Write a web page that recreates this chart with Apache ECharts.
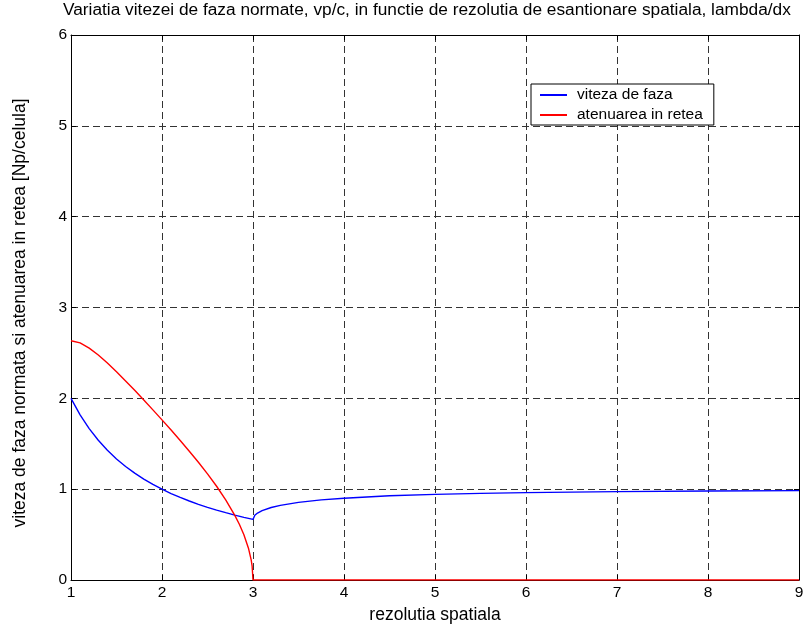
<!DOCTYPE html>
<html><head><meta charset="utf-8">
<script src="https://cdn.jsdelivr.net/npm/echarts@6/dist/echarts.min.js"></script>
<style>html,body{margin:0;padding:0;background:#fff}#c{width:809px;height:625px}</style>
</head><body><div id="c"></div>
<script>
var titleText = 'Variatia vitezei de faza normate, vp/c, in functie de rezolutia de esantionare spatiala, lambda/dx';
var xName = 'rezolutia spatiala';
var yName = 'viteza de faza normata si atenuarea in retea [Np/celula]';
var seriesNames = ['viteza de faza', 'atenuarea in retea'];
var xTicks = [1, 2, 3, 4, 5, 6, 7, 8, 9];
var yTicks = [0, 1, 2, 3, 4, 5, 6];

// viteza de faza (vp/c) vs rezolutie
var vX = [1.0, 1.1, 1.2, 1.3, 1.4, 1.5, 1.6, 1.7, 1.8, 1.9, 2.0, 2.1, 2.2, 2.3, 2.4, 2.5, 2.6, 2.7, 2.8, 2.9, 3.0,
          3.02, 3.05, 3.1, 3.2, 3.3, 3.5, 3.75, 4.0, 4.5, 5.0, 5.5, 6.0, 7.0, 8.0, 9.0];
var vY = [2.000, 1.818, 1.667, 1.538, 1.429, 1.333, 1.250, 1.176, 1.111, 1.053, 1.000, 0.952, 0.909, 0.870, 0.833, 0.800, 0.769, 0.741, 0.714, 0.690, 0.667,
          0.712, 0.737, 0.763, 0.798, 0.821, 0.854, 0.882, 0.900, 0.927, 0.943, 0.954, 0.962, 0.973, 0.980, 0.984];

// atenuarea in retea vs rezolutie
var aX = [1.0, 1.1, 1.2, 1.3, 1.4, 1.5, 1.6, 1.7, 1.8, 1.9, 2.0, 2.1, 2.2, 2.3, 2.4, 2.5, 2.6, 2.7, 2.8, 2.85, 2.9, 2.95, 2.98, 2.99, 3.0, 9.0];
var aY = [2.634, 2.610, 2.553, 2.477, 2.388, 2.292, 2.192, 2.088, 1.981, 1.873, 1.763, 1.651, 1.536, 1.418, 1.296, 1.168, 1.032, 0.883, 0.712, 0.614, 0.498, 0.350, 0.221, 0.156, 0.000, 0.000];

function pairs(xs, ys) { return xs.map(function (x, i) { return [x, ys[i]]; }); }

var font = 'Liberation Sans, Arial, sans-serif';
var chart = echarts.init(document.getElementById('c'), null, {renderer: 'canvas'});
var gridLine = {show: true, lineStyle: {color: '#333', type: [7, 4], width: 1}};
chart.setOption({
  animation: false,
  backgroundColor: '#fff',
  title: {text: titleText, left: 61, top: 0, padding: [2, 2, 2, 2],
    textStyle: {fontFamily: font, fontSize: 17.3, fontWeight: 'normal', color: '#000'}},
  grid: {left: 71, right: 10, top: 35, bottom: 45, show: false, containLabel: false, outerBoundsMode: 'none'},
  legend: {
    orient: 'vertical', left: 531, top: 84, data: seriesNames,
    backgroundColor: '#fff', borderColor: '#000', borderWidth: 1, borderRadius: 0,
    padding: [3, 11, 2, 9], itemGap: 4, itemWidth: 27, itemHeight: 2, icon: 'rect',
    textStyle: {fontFamily: font, fontSize: 15.5, color: '#000', padding: [0, 0, 0, 5]}
  },
  xAxis: [{
    type: 'value', min: 1, max: 9, interval: 1,
    name: xName, nameLocation: 'middle', nameGap: 23,
    nameTextStyle: {fontFamily: font, fontSize: 17.5, color: '#000'},
    axisLine: {show: true, onZero: false, lineStyle: {color: '#000', width: 1}},
    axisTick: {show: true, inside: true, length: 5, lineStyle: {color: '#000'}},
    axisLabel: {fontFamily: font, fontSize: 15.5, color: '#000', margin: 5},
    splitLine: gridLine
  }, {
    type: 'value', min: 1, max: 9, interval: 1, position: 'top',
    axisLine: {show: true, onZero: false, lineStyle: {color: '#000', width: 1}},
    axisTick: {show: true, inside: true, length: 5, lineStyle: {color: '#000'}},
    axisLabel: {show: false}, splitLine: {show: false}
  }],
  yAxis: [{
    type: 'value', min: 0, max: 6, interval: 1,
    name: yName, nameLocation: 'middle', nameGap: 42,
    nameTextStyle: {fontFamily: font, fontSize: 17.5, color: '#000', padding: [0, 11, 0, 0]},
    axisLine: {show: true, onZero: false, lineStyle: {color: '#000', width: 1}},
    axisTick: {show: true, inside: true, length: 5, lineStyle: {color: '#000'}},
    axisLabel: {fontFamily: font, fontSize: 15.5, color: '#000', margin: 4},
    splitLine: gridLine
  }, {
    type: 'value', min: 0, max: 6, interval: 1, position: 'right',
    axisLine: {show: true, onZero: false, lineStyle: {color: '#000', width: 1}},
    axisTick: {show: true, inside: true, length: 5, lineStyle: {color: '#000'}},
    axisLabel: {show: false}, splitLine: {show: false}
  }],
  series: [{
    name: seriesNames[0], type: 'line', data: pairs(vX, vY), smooth: false,
    showSymbol: false, symbol: 'none', color: '#0000ff',
    lineStyle: {color: '#0000ff', width: 1.4}
  }, {
    name: seriesNames[1], type: 'line', data: pairs(aX, aY), smooth: false,
    showSymbol: false, symbol: 'none', color: '#ff0000',
    lineStyle: {color: '#ff0000', width: 1.4}
  }]
});
</script></body></html>
